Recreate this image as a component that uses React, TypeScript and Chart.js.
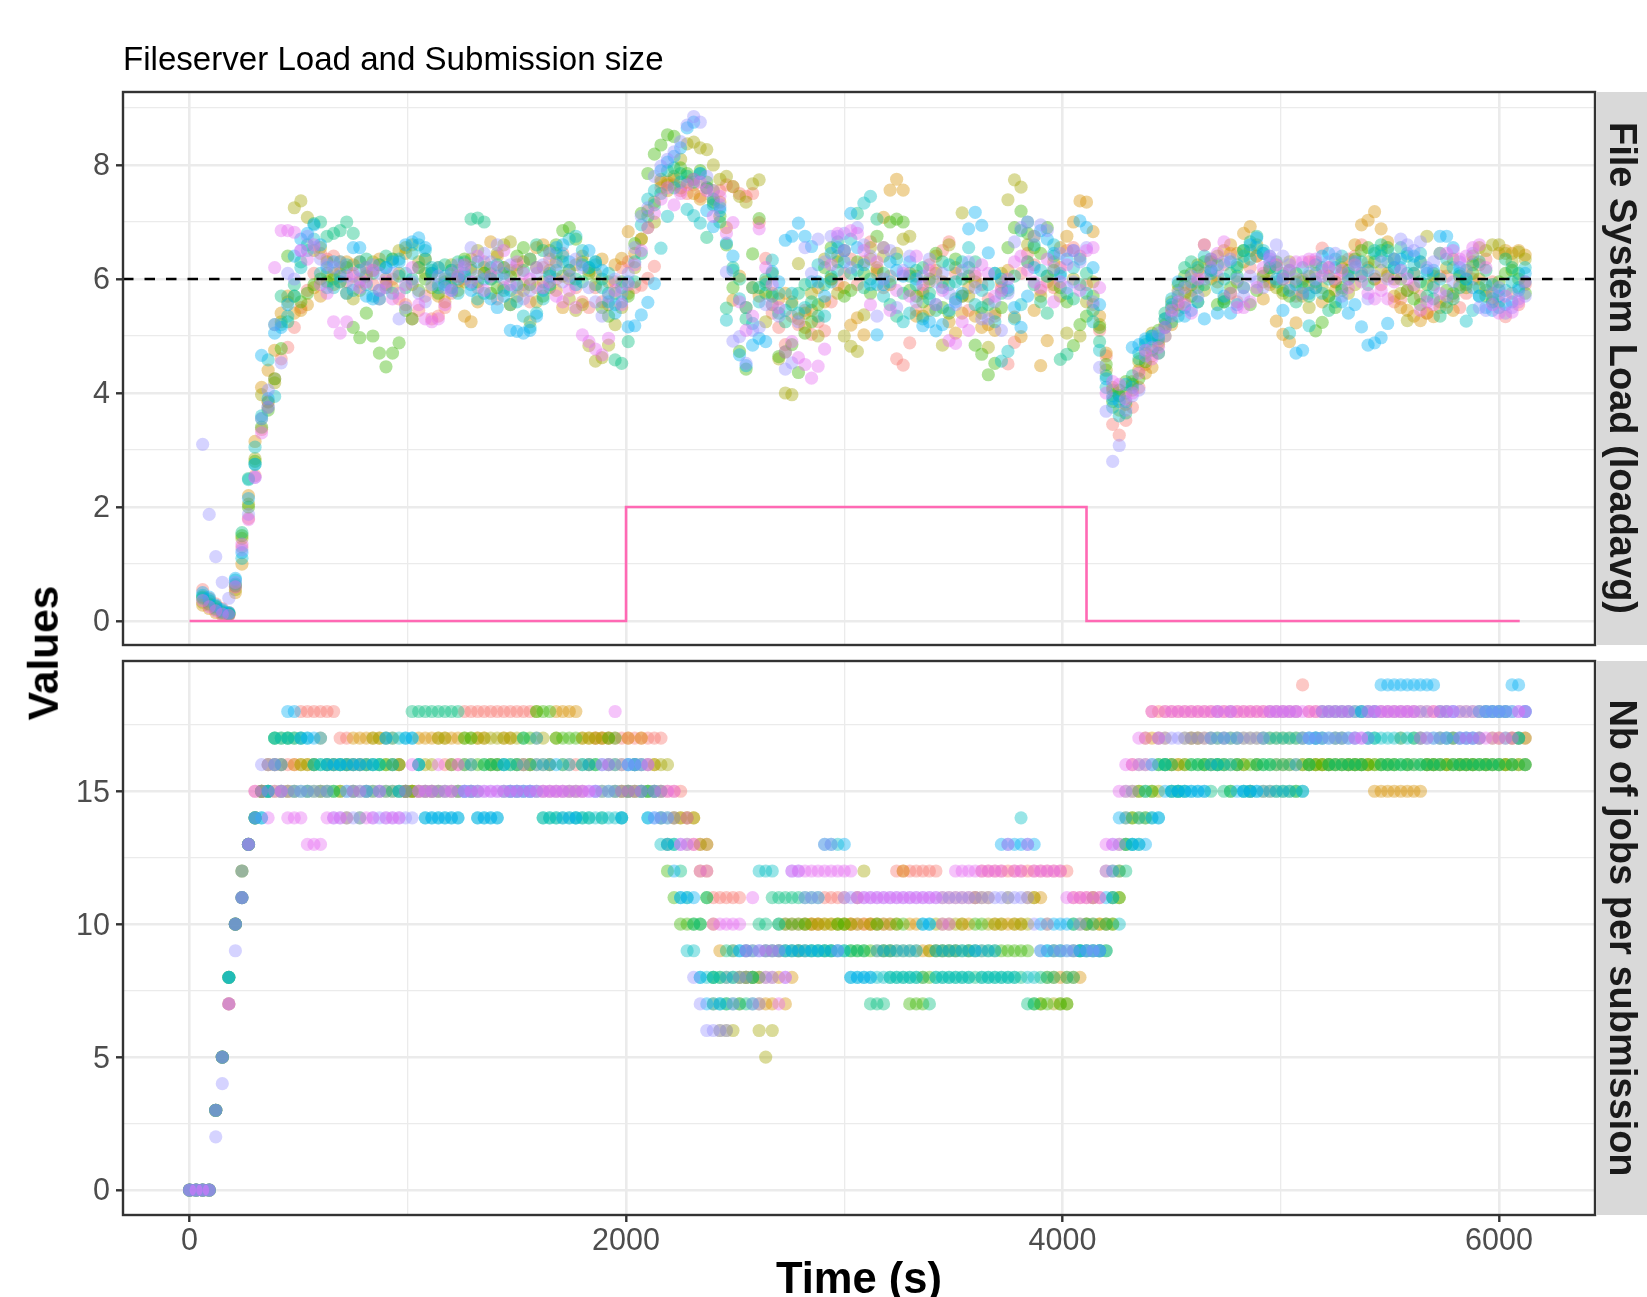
import React, { useEffect, useRef } from "react";
import { Chart, registerables } from "chart.js";

Chart.register(...registerables);

const jobTimes = [0,30,60,90,120,150,180,210,240,270,300,330,360,390,420,450,480,510,540,570,600,630,660,690,720,750,780,810,840,870,900,930,960,990,1020,1050,1080,1110,1140,1170,1200,1230,1260,1290,1320,1350,1380,1410,1440,1470,1500,1530,1560,1590,1620,1650,1680,1710,1740,1770,1800,1830,1860,1890,1920,1950,1980,2010,2040,2070,2100,2130,2160,2190,2220,2250,2280,2310,2340,2370,2400,2430,2460,2490,2520,2550,2580,2610,2640,2670,2700,2730,2760,2790,2820,2850,2880,2910,2940,2970,3000,3030,3060,3090,3120,3150,3180,3210,3240,3270,3300,3330,3360,3390,3420,3450,3480,3510,3540,3570,3600,3630,3660,3690,3720,3750,3780,3810,3840,3870,3900,3930,3960,3990,4020,4050,4080,4110,4140,4170,4200,4230,4260,4290,4320,4350,4380,4410,4440,4470,4500,4530,4560,4590,4620,4650,4680,4710,4740,4770,4800,4830,4860,4890,4920,4950,4980,5010,5040,5070,5100,5130,5160,5190,5220,5250,5280,5310,5340,5370,5400,5430,5460,5490,5520,5550,5580,5610,5640,5670,5700,5730,5760,5790,5820,5850,5880,5910,5940,5970,6000,6030,6060,6090,6120];
const loadTimes = jobTimes.slice(2);

const loadSalmon = [.55,.4,.3,.22,.15,.6,1.3,1.8,2.55,3.36, 3.85,4.25,4.6,4.8,5.15,5.5,5.8,6.1,6.45,6.35, 6.4,6.2,5.95,6.05,6.3,6.1,5.9,5.65,5.85,6.0, 5.65,5.55,5.3,5.45,5.7,5.3,5.35,5.5,5.75,5.95, 6.0,6.2,5.85,6.3,6.1,5.65,5.85,6.15,6.25,5.9, 5.6,5.85,6.2,6.35,6.0,6.45,6.15,5.85,5.6,5.5, 5.85,5.6,5.55,5.95,6.2,6.3,5.85,5.89,6.01,6.22, 7.6,7.7,7.65,7.55,7.5,7.65,7.45,7.6,7.4,7.55, 7.65,7.62,7.5,7.45,7.5,6.99,6.36,5.4,5.15,4.85, 5.35,5.2,5.45,5.03,5.25,5.09,5.6,5.9,6.1,6.35, 5.9,6.3,6.65,6.1,5.85,6.05,4.6,4.49,4.88,5.45, 5.8,6.25,6.15,6.5,6.65,6.1,5.7,5.45,6.05,5.9, 5.65,5.35,5.85,4.51,4.89,6.1,6.45,6.25,5.8,5.95, 5.85,6.2,6.5,6.55,6.4,5.9,5.55,5.1,4.65,3.45, 3.26,3.52,3.75,4.1,4.5,4.65,4.9,5.15,5.4,5.45, 5.6,5.8,5.95,6.1,6.3,6.05,6.25,6.45,5.6,5.85, 6.2,6.4,6.1,5.95,6.25,6.1,5.85,5.7,6.0,6.3, 6.3,6.54,6.2,5.95,6.1,6.35,6.4,6.6,6.2,6.0, 5.9,6.1,5.6,5.65,5.8,6.1,5.7,5.4,5.9,6.05, 6.05,5.7,5.5,5.75,6.0,6.25,6.35,5.95,5.6,5.34, 5.75,5.55,5.9];
const loadOrange = [.28,.22,.15,.1,.1,.5,1.0,2.2,3.15,4.1, 4.4,4.75,5.4,5.7,5.4,5.45,5.55,5.85,5.7,6.1, 5.9,6.1,6.3,6.25,5.95,6.2,6.15,6.35,6.0,5.85, 6.1,6.45,5.9,6.2,6.35,6.1,5.7,5.6,6.0,6.15, 5.35,5.25,5.6,6.1,6.65,6.4,6.2,5.55,5.7,6.3, 6.35,6.55,6.6,6.15,5.8,5.5,6.0,6.25,6.4,6.15, 6.1,6.35,5.95,6.25,6.36,6.83,6.45,6.7,7.2,7.35, 7.7,7.55,7.75,7.6,7.7,7.5,7.4,7.6,7.55,7.35, 6.9,5.63,6.05,5.5,5.85,5.7,5.95,5.55,5.65,5.75, 5.6,5.3,5.15,5.45,5.85,5.6,6.0,6.4,5.85,5.19, 5.32,5.02,6.35,6.15,7.08,7.56,7.75,7.56,6.1,5.35, 5.75,5.45,6.4,5.95,5.25,5.05,5.4,5.85,5.35,5.15, 5.2,5.1,5.95,6.15,5.33,4.99,6.3,5.45,4.48,4.92, 6.3,6.55,6.75,7.0,7.37,7.35,6.83,5.35,4.7,4.1, 3.95,3.8,4.2,4.4,4.35,4.45,4.7,5.0,5.2,5.55, 5.75,5.9,6.15,6.6,6.3,5.95,6.5,6.6,6.45,6.8, 6.92,6.4,5.65,5.9,5.26,5.03,4.9,5.23,5.7,5.9, 5.85,5.6,6.05,5.8,6.3,6.05,6.6,6.95,7.03,7.18, 6.88,6.65,5.7,5.5,5.45,5.35,5.27,5.4,5.34,5.5, 5.6,5.45,5.9,6.15,6.3,6.0,5.8,5.75,6.45,6.5, 6.45,6.5,6.42];
const loadOlive = [.33,.28,.2,.13,.12,.55,1.45,2.05,2.85,3.97, 3.84,4.18,5.25,5.6,7.25,7.37,7.08,6.5,6.55,6.3, 6.1,5.95,5.75,5.65,5.8,6.05,6.3,6.25,5.9,6.35, 6.5,6.55,6.6,6.3,6.1,5.85,6.2,6.0,6.25,5.8, 5.95,6.35,6.5,6.2,6.0,6.45,6.6,6.65,6.15,5.8, 5.25,5.6,5.95,6.5,6.3,6.05,5.65,5.45,5.55,4.83, 4.56,4.62,4.84,5.2,5.5,5.75,6.2,6.7,6.9,7.0, 7.75,7.65,7.8,8.1,8.37,8.4,8.3,8.27,8.0,7.75, 7.8,7.62,7.45,7.35,7.67,7.74,5.25,5.75,4.6,4.0, 3.97,6.27,5.4,5.75,5.0,6.35,6.0,5.75,5.0,4.82, 4.73,5.37,6.55,6.2,6.4,5.9,6.45,6.7,6.75,6.05, 5.35,5.95,6.1,4.84,6.6,6.2,7.16,5.7,5.95,5.4, 4.8,5.4,6.1,7.39,7.74,7.61,6.6,6.75,5.7,6.05, 5.9,5.7,5.05,6.0,5.0,5.6,5.95,5.2,4.4,4.05, 3.7,4.0,4.05,4.55,4.7,5.05,4.85,5.2,5.6,5.8, 5.9,6.1,6.25,5.8,6.0,6.4,5.65,5.75,5.95,6.3, 6.5,6.6,5.95,6.15,5.85,5.75,6.3,5.95,5.75,5.5, 6.1,5.85,5.7,5.95,6.2,5.75,5.9,6.1,6.3,6.0, 6.15,6.05,6.0,5.75,5.27,5.85,6.3,6.75,6.05,5.6, 6.2,6.35,6.05,5.85,6.4,6.55,6.5,6.6,6.6,6.45, 6.3,6.47,6.35];
const loadGreen = [.42,.3,.25,.15,.12,.62,1.5,2.0,2.8,3.4, 3.7,4.25,4.78,6.4,5.7,5.6,5.75,5.9,6.0,5.95, 6.0,6.3,6.2,5.15,4.97,5.4,5.0,4.7,4.46,4.7, 4.88,5.45,5.3,5.8,6.0,6.1,5.75,5.95,6.15,6.05, 6.35,6.15,5.95,6.1,5.75,5.85,6.2,6.05,6.4,6.55, 5.9,6.2,5.7,5.85,6.6,6.85,6.9,6.7,6.3,6.1, 5.9,5.5,5.35,5.75,5.95,5.7,6.62,7.15,7.85,8.19, 8.35,8.53,8.5,7.95,7.85,7.75,7.9,7.7,7.35,7.1, 6.6,5.85,4.73,4.42,6.44,7.06,5.75,6.1,4.64,4.72, 4.85,4.36,5.05,5.25,5.55,6.2,6.55,6.3,5.7,5.8, 6.3,6.1,5.75,6.75,6.55,7.0,7.05,7.0,5.8,5.7, 5.6,6.0,6.45,5.5,5.4,6.35,5.7,6.05,4.84,4.68, 4.32,4.52,5.5,6.55,6.9,7.19,6.8,6.55,6.45,6.9, 6.15,5.85,5.6,4.83,5.2,5.35,5.7,5.15,4.5,3.85, 4.05,4.2,4.15,4.25,4.55,4.75,5.1,5.3,5.5,5.9, 6.05,5.7,5.6,6.3,6.15,5.55,5.6,5.85,6.2,6.5, 5.55,5.8,6.05,6.2,6.3,5.8,5.7,6.1,5.95,6.05, 5.09,5.24,5.7,5.5,5.85,6.15,6.35,6.5,6.55,6.3, 6.5,6.55,6.35,6.0,5.8,5.65,5.55,5.9,6.1,6.45, 5.8,5.75,6.05,5.9,6.1,5.85,5.7,5.6,5.95,6.1, 6.15,6.0,5.75];
const loadSea = [.4,.35,.22,.16,.13,.65,1.55,2.5,2.75,3.55, 3.75,5.2,5.7,5.25,5.9,6.3,6.6,6.97,7.0,6.75, 6.8,6.85,7.0,6.8,6.3,6.35,6.1,6.25,6.4,6.35, 6.05,5.85,6.0,6.2,6.35,6.15,5.9,6.25,5.85,6.3, 6.3,7.05,7.07,7.0,6.2,6.05,5.8,5.55,5.9,6.15, 6.35,6.6,6.5,6.1,6.45,6.3,6.15,6.0,5.95,6.2, 6.3,6.0,5.75,4.58,4.52,4.9,5.95,6.45,7.1,7.3, 7.5,7.9,7.95,7.85,7.8,7.7,7.85,6.73,7.3,7.0, 5.49,6.2,6.0,5.3,5.85,5.85,6.0,5.7,5.4,5.25, 5.55,5.75,5.9,5.6,5.35,5.9,6.05,6.65,6.5,6.1, 7.15,5.85,6.0,7.05,6.1,5.55,5.35,5.75,6.05,6.15, 6.2,5.75,5.45,6.3,5.9,5.65,6.0,6.2,6.3,5.5, 5.55,6.1,5.75,5.8,6.05,6.85,7.0,5.9,5.6,5.4, 6.4,4.59,4.68,5.65,5.9,6.1,5.45,4.9,4.3,3.95, 3.95,3.65,4.3,4.6,4.85,5.0,4.95,5.4,5.25,5.7, 6.2,6.3,5.85,5.9,6.35,6.25,5.6,6.1,6.05,6.5, 6.65,6.75,6.45,6.2,5.95,6.0,6.15,5.6,5.85,5.7, 5.95,6.2,5.45,5.6,5.8,6.0,6.3,6.05,5.9,6.45, 6.6,6.3,6.2,6.55,6.4,6.1,5.95,5.7,5.65,5.35, 5.5,5.65,5.85,6.0,6.25,6.3,6.15,5.9,5.8,6.35, 6.2,6.1,5.95];
const loadTeal = [.45,.38,.26,.18,.14,.72,1.1,2.48,3.05,3.6, 4.58,3.94,5.2,5.35,5.7,6.2,6.5,6.7,6.1,5.85, 5.85,5.95,6.25,5.8,6.15,5.9,5.7,5.8,6.2,5.75, 6.35,6.1,6.45,6.6,6.5,6.2,5.85,6.05,6.15,5.75, 6.1,5.9,5.65,5.75,6.0,6.25,6.1,5.8,5.6,5.35, 5.15,5.4,5.65,5.9,6.15,6.4,6.7,6.75,6.5,6.2, 6.25,5.85,6.1,5.55,5.85,5.95,6.3,6.95,7.4,7.55, 6.54,7.1,7.6,7.7,7.22,7.11,6.98,7.6,7.4,7.25, 5.28,6.15,5.65,5.5,5.22,5.6,5.9,6.33,5.75,5.45, 5.75,5.4,5.5,5.95,6.25,5.35,5.95,6.15,6.5,6.7, 6.15,7.33,7.45,5.9,5.7,5.95,6.35,5.25,5.4,5.9, 5.3,5.65,5.55,5.85,6.25,5.95,6.3,6.55,5.55,5.8, 5.9,5.25,4.56,4.73,5.3,5.55,6.3,6.6,6.15,6.05, 6.6,6.1,5.75,6.2,6.35,5.75,5.25,4.75,4.1,3.75, 3.6,3.85,4.1,4.7,4.9,4.95,5.0,5.15,5.65,5.35, 5.5,5.95,6.2,6.4,6.1,5.85,6.0,6.3,6.25,6.4, 6.35,6.55,6.5,6.3,6.2,6.05,5.05,5.9,6.2,5.18, 6.25,5.75,6.0,6.35,6.4,6.1,6.2,6.3,6.15,6.5, 6.4,6.5,6.35,6.2,6.1,6.25,6.45,6.15,5.85,6.0, 6.35,6.2,6.1,5.26,5.45,5.7,5.9,5.65,5.5,5.8, 5.95,5.85,6.2];
const loadBlue = [.5,.42,.28,.2,.15,.75,1.2,2.15,2.75,4.66, 3.9,5.05,5.15,5.55,6.4,6.7,6.8,6.95,6.6,6.2, 6.3,6.05,5.75,6.55,6.55,5.7,5.65,5.65,6.2,6.3, 6.3,6.6,6.65,6.72,6.55,6.1,6.2,5.9,5.8,6.0, 6.05,5.8,6.3,6.0,5.65,5.5,5.7,5.1,5.08,5.05, 5.1,5.35,5.8,6.05,6.55,6.6,6.3,5.9,6.25,6.5, 6.3,6.15,5.6,5.4,5.6,5.16,5.18,5.37,5.59,5.92, 7.9,8.05,8.15,8.3,8.65,8.75,7.85,7.2,6.92,7.2, 6.63,6.4,4.67,4.48,4.84,4.96,4.9,6.13,5.95,6.68, 6.75,6.98,6.75,6.57,5.95,5.7,6.45,6.55,6.3,7.15, 6.55,6.25,5.9,5.02,5.9,6.3,6.15,6.05,6.3,6.0, 5.18,5.25,5.09,5.2,5.45,5.6,5.75,6.88,7.17,6.94, 6.46,6.1,6.0,5.85,5.5,5.15,5.7,6.2,6.85,6.7, 6.45,6.05,6.35,6.5,7.02,6.9,6.2,5.55,4.25,3.9, 3.85,4.15,4.8,4.85,4.95,5.0,4.7,5.3,5.55,5.95, 5.35,5.45,5.6,5.3,6.15,5.4,5.7,5.4,5.55,5.85, 6.6,6.72,6.45,6.4,6.0,5.45,5.8,4.7,4.75,5.75, 5.85,6.4,6.45,6.2,5.6,5.4,5.55,5.16,4.84,4.88, 4.97,5.22,6.2,6.35,6.45,6.4,6.3,6.1,6.15,6.75, 6.75,6.55,6.2,6.0,5.85,5.7,5.5,5.45,5.7,5.55, 5.6,5.8,6.1];
const loadViolet = [3.1,1.87,1.13,.68,.4,.68,1.25,1.87,2.52,3.55, 4.05,5.2,4.53,6.1,6.0,6.5,6.75,6.55,6.35,6.25, 6.2,6.3,6.05,5.9,6.0,6.2,6.25,6.1,5.85,6.1, 5.3,5.5,5.95,5.75,5.6,5.9,6.05,5.85,6.1,6.25, 6.2,6.55,6.05,6.45,6.3,6.6,6.0,6.25,5.85,5.65, 5.8,6.1,6.25,6.45,6.25,5.95,6.05,6.35,6.2,5.85, 5.6,5.35,5.7,6.0,5.75,6.1,6.55,7.1,7.25,7.8, 7.98,8.1,8.23,8.41,8.7,8.85,8.75,7.8,7.55,7.3, 6.12,4.91,4.99,4.52,5.1,5.15,5.55,5.55,5.35,4.42, 4.53,5.25,6.55,6.1,6.7,6.3,6.75,6.75,6.8,6.2, 6.9,6.6,6.4,5.35,6.0,6.5,5.5,6.15,6.4,5.6, 6.05,6.35,5.95,6.1,5.75,5.55,6.15,6.3,5.85,5.3, 5.3,5.6,5.1,5.75,6.65,6.9,7.0,6.75,6.95,6.85, 6.2,6.45,5.85,5.95,6.3,6.55,5.6,4.45,3.68,2.8, 3.08,3.7,3.95,4.05,4.65,4.8,5.05,5.0,5.35,5.75, 5.85,6.05,5.7,6.0,6.2,6.15,6.3,6.35,6.0,5.7, 6.05,5.95,5.85,6.35,6.6,6.4,6.25,6.0,5.75,6.1, 6.0,6.15,6.3,6.45,5.7,6.0,6.3,6.1,5.65,6.05, 6.3,6.0,6.35,6.7,6.6,6.5,6.65,6.2,6.3,6.45, 5.7,5.95,6.3,6.15,6.45,5.5,5.45,5.75,5.85,5.4, 5.5,5.65,5.7];
const loadMagenta = [.36,.25,.18,.12,.1,.6,1.35,1.78,2.52,3.3, 3.75,6.2,6.85,6.85,6.82,6.5,6.35,6.6,5.9,5.75, 5.25,5.05,5.25,6.1,5.85,5.95,6.15,5.8,5.95,5.65, 5.75,5.9,6.2,5.55,5.3,5.25,5.3,5.55,5.8,6.05, 6.25,5.95,6.4,5.8,6.05,6.2,6.5,5.9,6.3,6.1, 6.0,6.2,5.85,5.95,5.7,5.6,5.8,5.5,5.02,4.9, 4.77,4.67,4.96,5.8,5.55,5.9,6.25,6.5,6.9,7.15, 7.4,7.6,7.3,7.5,7.65,7.75,7.7,7.55,7.1,7.45, 6.8,6.99,5.6,5.1,5.35,6.88,6.2,5.9,5.5,4.72, 4.9,4.62,4.5,4.26,4.47,4.77,6.25,6.8,6.5,6.85, 6.8,6.5,5.55,6.3,6.55,5.45,5.8,6.1,5.7,6.4, 5.9,6.15,5.55,5.8,4.92,4.87,5.25,5.1,6.1,6.25, 6.1,5.7,5.8,6.0,6.3,6.4,6.15,5.95,5.85,6.35, 5.6,5.95,6.25,6.5,5.8,6.5,6.55,5.85,4.0,4.2, 4.15,3.9,4.0,4.35,4.75,4.6,4.8,5.15,5.45,5.6, 5.55,5.4,6.0,6.6,6.35,6.45,6.65,5.75,5.5,5.5, 5.6,5.85,6.2,6.4,6.25,6.0,6.15,6.3,6.3,6.35, 6.35,6.05,6.2,6.0,6.15,5.85,6.25,5.95,5.75,5.65, 5.8,5.65,5.95,6.15,6.0,5.9,5.45,5.6,5.55,5.75, 6.45,6.5,6.35,6.4,6.55,6.6,6.2,5.55,5.4,5.7, 5.42,5.6,5.95];

const jobsSalmon = [0,0,0,0,3,5,7,10,11,13, 15,15,16,16,16,16,16,18,18,18, 18,18,18,17,17,16,16,15,15,15, 15,15,16,15,15,15,15,15,15,16, 16,16,18,18,18,18,18,18,18,18, 18,18,18,16,15,15,15,15,16,16, 15,16,17,17,17,17,17,17,17,17, 17,17,17,15,15,15,13,13,13,13, 11,11,11,11,11,9,9,8,8,8, 9,10,10,10,10,10,10,11,11,11, 11,10,10,10,10,10,10,10,12,12, 12,12,12,12,12,11,11,11,11,11, 11,12,12,12,12,12,12,12,12,12, 12,12,12,12,12,11,11,11,11,11, 12,12,13,15,16,16,16,18,18,18, 18,18,18,18,18,18,18,18,18,18, 18,18,18,18,18,18,18,18,18,18, 19,18,18,18,18,18,18,18,18,18, 18,18,18,18,18,18,18,18,18,18, 18,18,18,17,18,18,18,18,18,18, 18,18,17,17,17];
const jobsOrange = [0,0,0,0,3,5,7,10,11,13, 14,15,15,16,16,15,16,16,16,16, 17,16,16,15,16,17,17,17,17,17, 17,17,16,15,15,17,17,17,17,17, 17,17,16,16,17,17,16,16,17,17, 16,16,16,17,16,16,18,18,18,18, 17,17,17,17,17,16,16,17,16,17, 16,16,15,13,14,14,14,14,12,12, 10,9,8,9,8,8,8,7,7,7, 8,7,8,9,9,10,10,10,10,10, 10,10,11,10,10,9,9,9,10,12, 10,10,9,9,9,9,9,9,10,10, 11,11,11,10,10,10,10,10,11,11, 11,10,8,8,8,8,8,10,10,10, 10,11,12,14,15,15,17,17,17,17, 16,16,16,17,17,17,17,17,17,17, 16,16,15,16,15,15,16,16,16,16, 16,16,16,16,16,16,16,16,16,16, 16,15,15,15,15,15,15,15,15,16, 16,16,16,16,16,16,16,17,16,16, 17,16,16,16,16];
const jobsOlive = [0,0,0,0,3,5,8,10,12,13, 14,15,16,15,15,15,15,16,16,16, 15,15,16,16,16,16,16,16,17,17, 16,16,15,15,15,15,16,16,17,17, 15,15,17,17,17,17,17,17,17,17, 17,16,16,18,17,16,17,16,15,15, 17,17,17,17,16,15,15,15,15,16, 15,16,16,16,14,14,14,14,13,13, 7,6,6,6,7,8,8,6,5,6, 9,9,9,9,10,10,10,10,10,10, 10,10,10,12,10,10,10,10,9,9, 9,9,8,9,10,10,10,10,10,9, 9,9,10,10,10,11,10,10,10,11, 7,8,7,7,7,9,10,10,11,10, 10,10,11,13,14,14,14,15,15,16, 16,16,17,17,17,16,16,16,16,16, 17,17,17,17,17,17,17,17,17,17, 17,16,16,16,16,17,17,16,16,16, 16,16,16,16,16,17,16,16,17,16, 16,17,16,17,16,16,16,16,16,17, 16,16,17,17,17];
const jobsGreen = [0,0,0,0,3,5,8,10,12,13, 14,15,15,17,17,17,17,17,15,15, 15,16,15,15,14,15,14,16,16,16, 16,16,16,15,15,16,15,15,15,15, 16,15,17,17,16,16,16,16,16,16, 16,17,17,18,18,18,17,17,17,17, 16,16,16,15,17,17,15,15,15,15, 15,15,14,12,11,10,10,10,10,11, 8,8,7,8,8,8,8,8,9,9, 10,10,10,10,10,9,9,9,9,10, 10,9,9,9,9,10,9,9,10,10, 7,7,7,8,9,9,9,9,9,9, 10,10,9,9,9,9,9,9,9,7, 7,7,9,7,7,10,9,9,9,9, 9,10,11,13,14,15,15,15,16,16, 15,15,16,16,16,16,16,16,16,15, 16,16,16,16,16,16,15,15,15,15, 16,16,16,16,16,16,16,16,16,16, 16,16,16,16,16,16,16,17,16,16, 16,16,16,16,16,16,16,16,16,16, 16,16,16,16,16];
const jobsSea = [0,0,0,0,3,5,8,10,11,13, 14,15,15,17,15,17,15,15,15,16, 16,15,15,16,16,15,15,15,15,16, 15,15,15,15,18,18,18,18,18,18, 18,18,16,15,15,16,16,16,15,15, 15,17,16,15,14,14,14,14,14,14, 14,14,16,14,15,15,14,15,16,15, 15,15,15,14,13,12,11,10,10,11, 8,7,9,7,7,7,7,10,10,11, 11,11,11,11,11,11,11,9,9,9, 9,9,9,9,7,7,7,8,8,8, 8,8,8,7,8,8,8,8,8,8, 8,8,8,8,8,8,8,8,7,7, 8,8,8,9,8,8,9,10,10,9, 10,11,12,12,13,13,14,14,16,16, 16,15,15,16,16,16,15,16,15,15, 16,15,15,16,16,16,16,16,16,15, 15,16,17,17,16,16,16,16,16,16, 17,17,16,16,16,16,16,16,16,16, 16,16,17,16,16,16,16,16,16,16, 16,17,16,17,16];
const jobsTeal = [0,0,0,0,3,5,8,10,11,13, 14,14,15,17,17,17,17,17,17,16, 16,16,16,16,15,16,16,15,16,16, 17,17,17,17,17,16,14,14,14,14, 14,14,15,15,14,14,14,14,16,16, 16,15,15,16,14,14,14,16,16,14, 14,14,14,14,14,14,14,16,16,15, 14,15,13,13,13,11,9,9,8,8, 8,8,7,9,9,9,8,12,12,12, 10,9,9,9,9,9,9,13,13,13, 9,8,8,8,8,8,8,8,8,8, 8,8,10,10,8,8,8,8,8,8, 9,8,8,8,8,8,8,14,8,8, 9,9,9,9,9,10,9,9,9,9, 9,11,10,13,13,14,15,16,14,16, 15,15,15,15,15,15,17,16,16,16, 17,15,15,15,17,17,17,17,17,17, 17,17,17,17,17,17,17,17,17,18, 17,17,17,17,17,17,17,17,17,17, 17,17,17,17,17,17,17,18,18,18, 18,18,18,17,18];
const jobsBlue = [0,0,0,0,3,5,8,10,11,13, 14,14,15,16,16,18,18,17,17,17, 17,16,16,16,16,16,16,16,16,15, 17,16,15,17,17,16,14,14,14,14, 14,14,15,16,14,14,14,14,16,15, 15,15,15,17,16,16,16,14,14,14, 16,16,15,16,16,16,14,16,16,16, 14,14,14,13,12,11,11,11,8,7, 7,7,8,8,9,9,9,9,9,9, 9,9,9,9,9,9,9,9,9,9, 13,8,8,8,8,9,9,9,9,9, 9,9,10,10,9,9,9,9,9,9, 9,9,9,9,13,13,13,13,13,13, 10,9,10,10,10,9,9,9,9,9, 11,12,14,14,13,13,13,14,14,15, 15,15,15,15,15,15,16,17,17,17, 15,15,15,15,15,15,15,15,15,16, 15,17,17,18,18,18,18,18,18,18, 18,18,19,19,19,19,19,19,19,19, 19,18,18,18,17,17,17,17,18,18, 18,18,19,19,18];
const jobsViolet = [0,0,0,0,2,4,7,9,12,13, 14,16,16,16,15,15,15,15,15,15, 15,15,14,14,15,14,14,15,14,14, 14,14,14,14,14,15,15,15,15,15, 15,15,15,15,15,15,15,15,15,15, 15,16,15,15,15,15,15,15,15,15, 15,15,15,15,15,15,16,16,16,16, 16,14,14,14,14,13,13,8,7,6, 6,6,6,7,8,8,7,7,8,8, 9,8,12,12,11,11,11,13,13,9, 11,11,11,11,11,11,11,11,11,11, 11,11,11,11,11,11,11,11,11,11, 11,11,11,11,11,11,11,11,11,10, 9,10,9,9,9,9,10,9,9,9, 12,13,13,15,15,16,16,16,17,17, 17,17,17,17,17,17,17,18,17,18, 17,17,17,17,17,18,18,18,18,18, 17,17,17,17,17,17,17,17,17,17, 17,18,18,18,18,18,18,18,18,18, 17,17,17,18,18,18,18,18,18,18, 18,18,18,18,18];
const jobsMagenta = [0,0,0,0,3,5,7,10,11,13, 15,15,14,15,15,14,14,14,13,13, 13,14,14,14,14,15,15,14,14,15, 14,14,14,15,16,15,15,15,16,15, 15,16,15,15,15,15,15,15,15,15, 15,15,15,15,15,15,15,15,15,15, 15,15,15,16,16,18,15,15,15,15, 16,15,15,15,15,13,14,13,12,12, 10,10,10,10,10,9,11,9,9,9, 7,8,12,12,12,12,12,12,12,12, 12,12,11,11,11,11,11,11,11,11, 11,11,11,11,11,10,10,12,12,12, 12,12,12,12,12,13,12,12,13,12, 12,12,12,12,11,11,11,11,11,11, 13,13,15,16,16,17,17,18,17,18, 18,18,18,18,18,18,18,18,18,18, 18,18,18,18,18,18,18,18,18,18, 18,18,18,18,18,18,18,18,17,17, 18,18,18,18,18,18,18,18,17,17, 18,18,18,18,17,17,17,17,17,17, 17,17,17,18,18];

const seriesColors = ["rgba(248,118,109,0.4)","rgba(216,144,0,0.4)","rgba(163,165,0,0.4)","rgba(57,182,0,0.4)","rgba(0,191,125,0.4)","rgba(0,191,196,0.4)","rgba(0,176,246,0.4)","rgba(149,144,255,0.4)","rgba(231,107,243,0.4)"];
const loadSeries = [loadSalmon,loadOrange,loadOlive,loadGreen,loadSea,loadTeal,loadBlue,loadViolet,loadMagenta];
const jobSeries = [jobsSalmon,jobsOrange,jobsOlive,jobsGreen,jobsSea,jobsTeal,jobsBlue,jobsViolet,jobsMagenta];

const stepTimes = [0,2000,2000,4110,4110,6095];
const stepValues = [0,0,2,2,0,0];
const thresholdTimes = [-305,6440];
const thresholdValues = [6,6];

const xTicks = [0,1000,2000,3000,4000,5000,6000];
const xLabels = [0,2000,4000,6000];
const loadTicks = [0,1,2,3,4,5,6,7,8,9];
const loadLabels = [0,2,4,6,8];
const jobTicks = [0,2.5,5,7.5,10,12.5,15,17.5];
const jobLabels = [0,5,10,15];

const FONT = "'Liberation Sans', Arial, sans-serif";
const W = 1647;

const panelBorder = {
  id: "panelBorder",
  afterDraw(chart: any) {
    const { ctx, chartArea: a } = chart;
    ctx.save();
    ctx.strokeStyle = "#333333";
    ctx.lineWidth = 2.4;
    ctx.strokeRect(a.left, a.top, a.right - a.left, a.bottom - a.top);
    ctx.restore();
  },
};

function scales(yMin: number, yMax: number, yTicks: number[], yLabels: number[], showX: boolean, bottomH: number) {
  const isMajor = (labels: number[]) => (c: any) => labels.includes(c.tick?.value);
  const xm = isMajor(xLabels);
  const ym = isMajor(yLabels);
  return {
    x: {
      type: "linear",
      min: -305,
      max: 6440,
      afterBuildTicks: (s: any) => { s.ticks = xTicks.map((value) => ({ value })); },
      afterFit: (s: any) => { s.height = bottomH; s.paddingLeft = 0; s.paddingRight = 0; },
      border: { display: false },
      grid: {
        drawTicks: showX,
        tickLength: 7,
        color: "#EBEBEB",
        lineWidth: (c: any) => (xm(c) ? 2.6 : 1.3),
        tickColor: (c: any) => (xm(c) ? "#333333" : "rgba(0,0,0,0)"),
        tickWidth: 2.4,
      },
      ticks: {
        display: showX,
        autoSkip: false,
        maxRotation: 0,
        color: "#4D4D4D",
        padding: 1,
        font: { family: FONT, size: 30.5 },
        callback: (v: number) => (xLabels.includes(v) ? String(v) : ""),
      },
    },
    y: {
      type: "linear",
      min: yMin,
      max: yMax,
      afterBuildTicks: (s: any) => { s.ticks = yTicks.map((value) => ({ value })); },
      afterFit: (s: any) => { s.width = 123; s.paddingTop = 0; s.paddingBottom = 0; },
      border: { display: false },
      grid: {
        drawTicks: true,
        tickLength: 7,
        color: "#EBEBEB",
        lineWidth: (c: any) => (ym(c) ? 2.6 : 1.3),
        tickColor: (c: any) => (ym(c) ? "#333333" : "rgba(0,0,0,0)"),
        tickWidth: 2.4,
      },
      ticks: {
        autoSkip: false,
        color: "#4D4D4D",
        padding: 6,
        labelOffset: 2,
        font: { family: FONT, size: 30.5 },
        callback: (v: number) => (yLabels.includes(v) ? String(v) : ""),
      },
    },
  };
}

function scatter(times: number[], values: number[], color: string) {
  return {
    type: "scatter",
    order: 2,
    data: times.map((x, i) => ({ x, y: values[i] })),
    backgroundColor: color,
    borderWidth: 0,
    pointRadius: 6.6,
    pointHoverRadius: 6.6,
  };
}

function line(times: number[], values: number[], color: string, width: number, dash: number[]) {
  return {
    type: "line",
    order: 1,
    data: times.map((x, i) => ({ x, y: values[i] })),
    borderColor: color,
    borderWidth: width,
    borderDash: dash,
    pointRadius: 0,
    tension: 0,
    fill: false,
  };
}

const label = (extra: React.CSSProperties): React.CSSProperties => ({
  position: "absolute",
  fontFamily: FONT,
  whiteSpace: "nowrap",
  lineHeight: 1,
  ...extra,
});

export default function App() {
  const topRef = useRef<HTMLCanvasElement>(null);
  const botRef = useRef<HTMLCanvasElement>(null);

  useEffect(() => {
    const top = new Chart(topRef.current as any, {
      type: "scatter",
      data: {
        datasets: [
          ...loadSeries.map((v, i) => scatter(loadTimes, v, seriesColors[i])).reverse(),
          line(stepTimes, stepValues, "#FF69B4", 2.6, []),
          line(thresholdTimes, thresholdValues, "#000000", 2.6, [10.5, 11]),
        ] as any,
      },
      options: {
        animation: false,
        responsive: false,
        devicePixelRatio: 1,
        events: [],
        layout: { autoPadding: false, padding: { top: 92, right: 52, left: 0, bottom: 10 } },
        plugins: { legend: { display: false }, tooltip: { enabled: false }, title: { display: false } },
        scales: scales(-0.42, 9.28, loadTicks, loadLabels, false, 0) as any,
      },
      plugins: [panelBorder],
    });
    const bot = new Chart(botRef.current as any, {
      type: "scatter",
      data: { datasets: jobSeries.map((v, i) => scatter(jobTimes, v, seriesColors[i])).reverse() as any },
      options: {
        animation: false,
        responsive: false,
        devicePixelRatio: 1,
        events: [],
        layout: { autoPadding: false, padding: { top: 6, right: 52, left: 0, bottom: 0 } },
        plugins: { legend: { display: false }, tooltip: { enabled: false }, title: { display: false } },
        scales: scales(-0.94, 19.9, jobTicks, jobLabels, true, 82) as any,
      },
      plugins: [panelBorder],
    });
    return () => {
      top.destroy();
      bot.destroy();
    };
  }, []);

  return (
    <div style={{ position: "absolute", left: 0, top: 0, width: W, height: 1297, overflow: "hidden", background: "#fff" }}>
      <canvas ref={topRef} width={W} height={655} style={{ position: "absolute", left: 0, top: 0, width: W, height: 655 }} />
      <canvas ref={botRef} width={W} height={642} style={{ position: "absolute", left: 0, top: 655, width: W, height: 642 }} />

      <div style={label({ left: 123, top: 42, fontSize: 33.1, color: "#000" })}>Fileserver Load and Submission size</div>

      <div style={{ position: "absolute", left: 1596, top: 92, width: 51, height: 553, background: "#D9D9D9" }} />
      <div style={{ position: "absolute", left: 1596, top: 661, width: 51, height: 554, background: "#D9D9D9" }} />
      <div style={label({ left: 1623, top: 368, fontSize: 38, fontWeight: 700, color: "#1A1A1A", transform: "translate(-50%,-50%) rotate(90deg)" })}>File System Load (loadavg)</div>
      <div style={label({ left: 1623, top: 938, fontSize: 38, fontWeight: 700, color: "#1A1A1A", transform: "translate(-50%,-50%) rotate(90deg)" })}>Nb of jobs per submission</div>

      <div style={label({ left: 44, top: 653, fontSize: 42.5, fontWeight: 700, color: "#000", transform: "translate(-50%,-50%) rotate(-90deg)" })}>Values</div>
      <div style={label({ left: 859, top: 1279, fontSize: 43.5, fontWeight: 700, color: "#000", transform: "translate(-50%,-50%)" })}>Time (s)</div>
    </div>
  );
}
